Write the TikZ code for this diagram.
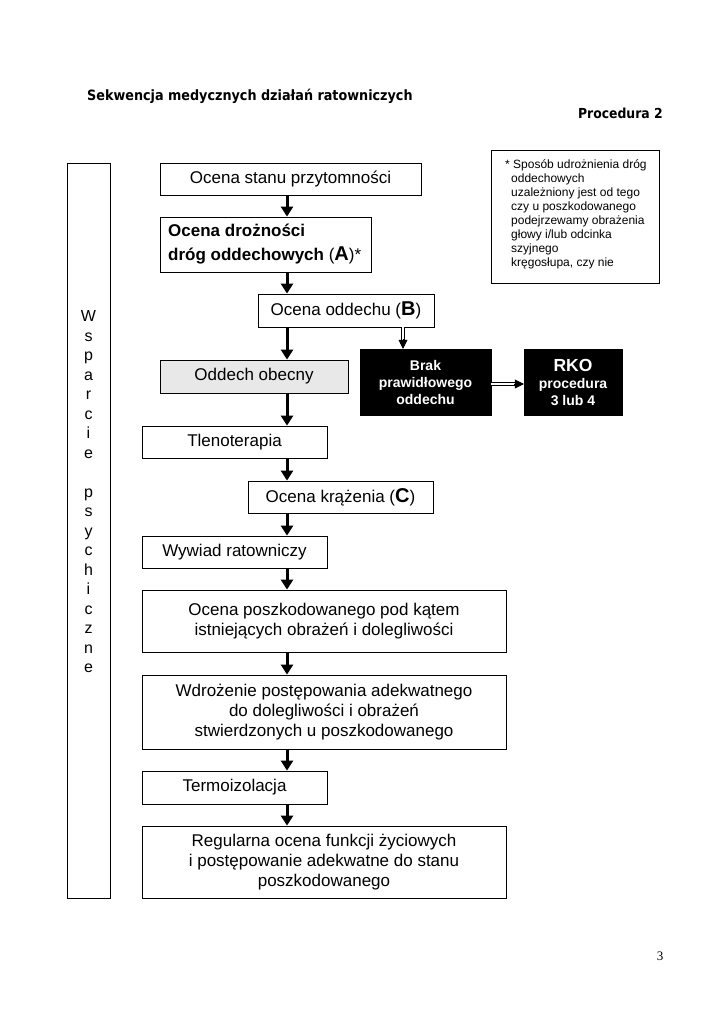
\documentclass[tikz,border=0pt]{standalone}
\usepackage{fontspec}
\setmainfont{Liberation Sans}
\newfontfamily\titlefont{DejaVu Sans Condensed}
\newfontfamily\serifnum{Liberation Serif}
\usetikzlibrary{arrows.meta,calc}
\begin{document}
\begin{tikzpicture}[x=1pt,y=-1pt,
  box/.style={draw=black,line width=0.8pt,inner sep=0pt,align=center,
    font=\fontsize{17}{20}\selectfont},
  blk/.style={draw=black,fill=black,text=white,inner sep=0pt,align=center,
    font=\bfseries\fontsize{14}{17}\selectfont},
  arr/.style={line width=3pt,-{Triangle[width=12pt,length=10pt]}},
  dblshaft/.style={double,double distance=2.2pt,line width=0.7pt,shorten >=8pt},
  dbltip/.style={line width=0.5pt,-{Triangle[width=9pt,length=9pt]}}]
\useasboundingbox (0,0) rectangle (724,1024);
\fill[white] (0,0) rectangle (724,1024);
% titles
\node[anchor=west,inner sep=0pt,font=\titlefont\bfseries\fontsize{14.2}{16}\selectfont] (title) at (87,96) {Sekwencja medycznych działań ratowniczych};
\node[anchor=east,inner sep=0pt,font=\titlefont\bfseries\fontsize{13.8}{16}\selectfont] (proc) at (663,113) {Procedura 2};
% side box
\node[draw,line width=0.8pt,minimum width=43pt,minimum height=735pt,inner sep=0pt] (side) at (88.5,530.5) {};
\node[align=center,inner sep=0pt,font=\fontsize{16}{19.5}\selectfont] (sidetxt) at (88.5,492) {W\\s\\p\\a\\r\\c\\i\\e\\[19.5pt]p\\s\\y\\c\\h\\i\\c\\z\\n\\e};
% note
\node[draw,line width=0.8pt,minimum width=168pt,minimum height=133pt,inner sep=0pt] (note) at (575,216.5) {};
\node[anchor=north west,align=left,inner sep=0pt,font=\fontsize{12}{14}\selectfont] (notetxt) at (505,159) {* Sposób udrożnienia dróg\\\hspace*{6pt}oddechowych\\\hspace*{6pt}uzależniony jest od tego\\\hspace*{6pt}czy u poszkodowanego\\\hspace*{6pt}podejrzewamy obrażenia\\\hspace*{6pt}głowy i/lub odcinka\\\hspace*{6pt}szyjnego\\\hspace*{6pt}kręgosłupa, czy nie};
% boxes
\node[box,minimum width=261pt,minimum height=32pt] (b1) at (290.5,179) {Ocena stanu przytomności};
\node[box,minimum width=211pt,minimum height=55pt] (b2) at (265.5,244.5) {};
\node[anchor=west,align=left,inner sep=0pt,font=\bfseries\fontsize{17}{24}\selectfont] (b2txt) at (168,244.5) {Ocena drożności\\dróg oddechowych {\mdseries(}{\fontsize{20}{24}\selectfont A}{\mdseries)*}};
\node[box,minimum width=176pt,minimum height=33pt] (b3) at (346,310.5) {Ocena oddechu ({\bfseries\fontsize{20}{20}\selectfont B})};
\node[box,fill=black!9,minimum width=188pt,minimum height=33pt] (b4) at (254,376.5) {Oddech obecny};
\node[blk,minimum width=131pt,minimum height=66pt] (k1) at (425.5,382) {Brak\\prawidłowego\\oddechu};
\node[blk,minimum width=98pt,minimum height=66pt] (k2) at (573,382) {{\fontsize{17.5}{18}\selectfont RKO}\\procedura\\3 lub 4};
\node[box,minimum width=185pt,minimum height=32pt] (b5) at (234.5,442) {Tlenoterapia};
\node[box,minimum width=185pt,minimum height=32pt] (b6) at (340.5,497) {Ocena krążenia ({\bfseries\fontsize{20}{20}\selectfont C})};
\node[box,minimum width=185pt,minimum height=32pt] (b7) at (234.5,552) {Wywiad ratowniczy};
\node[box,minimum width=364pt,minimum height=62pt] (b8) at (324,621) {Ocena poszkodowanego pod kątem\\istniejących obrażeń i dolegliwości};
\node[box,minimum width=364pt,minimum height=74pt] (b9) at (324,712) {Wdrożenie postępowania adekwatnego\\do dolegliwości i obrażeń\\stwierdzonych u poszkodowanego};
\node[box,minimum width=185pt,minimum height=33pt] (b10) at (234.5,787.5) {Termoizolacja};
\node[box,minimum width=364pt,minimum height=72pt] (b11) at (324,862) {Regularna ocena funkcji życiowych\\i postępowanie adekwatne do stanu\\poszkodowanego};
% page number
\node[inner sep=0pt,font=\serifnum\fontsize{13}{15}\selectfont] (pg) at (660,956) {3};
% arrows
\coordinate (ax) at (287,0);
\coordinate (dx) at (403,0);
\draw[arr] (b1.south -| ax) -- (b2.north -| ax);
\draw[arr] (b2.south -| ax) -- (b3.north -| ax);
\draw[arr] (b3.south -| ax) -- (b4.north -| ax);
\draw[arr] (b4.south -| ax) -- (b5.north -| ax);
\draw[arr] (b5.south -| ax) -- (b6.north -| ax);
\draw[arr] (b6.south -| ax) -- (b7.north -| ax);
\draw[arr] (b7.south -| ax) -- (b8.north -| ax);
\draw[arr] (b8.south -| ax) -- (b9.north -| ax);
\draw[arr] (b9.south -| ax) -- (b10.north -| ax);
\draw[arr] (b10.south -| ax) -- (b11.north -| ax);
% double arrows
\coordinate (t1) at ($(k1.north -| dx)+(0,-10)$);
\draw[dblshaft] (b3.south -| dx) -- (k1.north -| dx);
\draw[dbltip] (t1) -- (k1.north -| dx);
\coordinate (e1) at ($(k1.east)+(0,2)$);
\coordinate (e2) at ($(k2.west)+(0,2)$);
\coordinate (t2) at ($(e2)+(-10,0)$);
\draw[dblshaft] (e1) -- (e2);
\draw[dbltip] (t2) -- (e2);
\end{tikzpicture}
\end{document}
